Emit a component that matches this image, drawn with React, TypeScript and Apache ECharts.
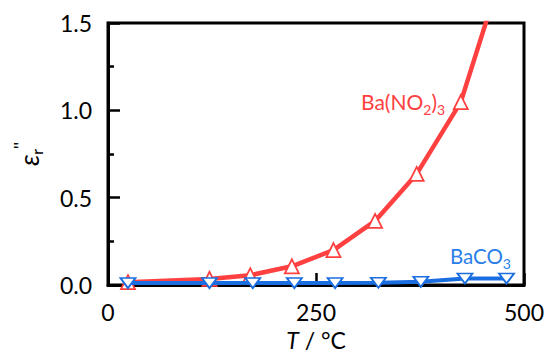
import React, { useEffect, useRef } from "react";
import * as echarts from "echarts";

const nitrateT = [24, 122, 171, 221, 271, 321, 371, 424, 470];
const nitrateEps = [0.016, 0.035, 0.056, 0.107, 0.2, 0.367, 0.636, 1.047, 1.74];
const carbonateT = [24, 122, 174, 224, 273, 325, 376, 429, 479];
const carbonateEps = [0.011, 0.011, 0.011, 0.011, 0.011, 0.013, 0.018, 0.037, 0.037];
const xTicks = [0, 250, 500];
const yTicks = [0, 0.5, 1.0, 1.5];

const RED = "#ff4040";
const BLUE = "#1a6ee0";
const BLUE_TEXT = "#2a80e8";
const FONT = "Lato";

export default function App() {
  const ref = useRef<HTMLDivElement>(null);
  useEffect(() => {
    if (!ref.current) return;
    const chart = echarts.init(ref.current, undefined, { renderer: "svg" });
    const axisCommon = {
      axisLine: { show: true, onZero: false, lineStyle: { color: "#000", width: 3 } },
      axisTick: { show: true, inside: true, length: 12, lineStyle: { color: "#000", width: 2.5 } },
      minorTick: { show: true, splitNumber: 2, length: 6, lineStyle: { color: "#000", width: 2.5 } },
      splitLine: { show: false },
    };
    chart.setOption({
      animation: false,
      backgroundColor: "#fff",
      grid: {
        left: 108,
        top: 23,
        right: 28,
        bottom: 68.5,
        show: true,
        borderColor: "#000",
        borderWidth: 3,
        backgroundColor: "transparent",
      },
      xAxis: {
        type: "value",
        min: xTicks[0],
        max: xTicks[xTicks.length - 1],
        interval: xTicks[1] - xTicks[0],
        ...axisCommon,
        axisLabel: { color: "#000", fontFamily: FONT, fontSize: 23, margin: 15 },
        name: "{i|T} / °C",
        nameLocation: "middle",
        nameGap: 43,
        nameTextStyle: {
          color: "#000",
          fontFamily: FONT,
          fontSize: 23,
          rich: {
            i: { fontStyle: "italic", fontFamily: FONT, fontSize: 23, color: "#000" },
          },
        },
      },
      yAxis: {
        type: "value",
        min: yTicks[0],
        max: yTicks[yTicks.length - 1],
        interval: yTicks[1] - yTicks[0],
        ...axisCommon,
        axisLabel: {
          color: "#000",
          fontFamily: FONT,
          fontSize: 23,
          margin: 16,
          formatter: (v: number) => v.toFixed(1),
        },
        name: "{e|ε}{s|r}{p|''}",
        nameLocation: "middle",
        nameRotate: 90,
        nameGap: 64,
        nameTextStyle: {
          color: "#000",
          fontFamily: FONT,
          rich: {
            e: { fontStyle: "italic", fontFamily: FONT, fontSize: 27, lineHeight: 32, color: "#000" },
            s: { fontFamily: FONT, fontSize: 16, lineHeight: 16, verticalAlign: "bottom", color: "#000" },
            p: { fontFamily: FONT, fontSize: 17, lineHeight: 17, verticalAlign: "top", color: "#000" },
          },
        },
      },
      series: [
        {
          name: "Ba(NO2)3",
          type: "line",
          data: nitrateT.map((t, i) => [t, nitrateEps[i]]),
          symbol: "triangle",
          symbolSize: 14,
          showAllSymbol: true,
          lineStyle: { color: RED, width: 4.5 },
          itemStyle: { color: "#fff", borderColor: RED, borderWidth: 1.8 },
          clip: true,
          z: 2,
        },
        {
          name: "BaCO3",
          type: "line",
          data: carbonateT.map((t, i) => [t, carbonateEps[i]]),
          symbol: "triangle",
          symbolRotate: 180,
          symbolSize: [15, 10],
          showAllSymbol: true,
          lineStyle: { color: BLUE, width: 4 },
          itemStyle: { color: "#fff", borderColor: BLUE, borderWidth: 1.8 },
          clip: true,
          z: 3,
        },
      ],
      graphic: [
        {
          type: "text",
          x: 361,
          y: 101,
          style: {
            text: "{m|Ba(NO}{s|2}{m|)}{s|3}",
            verticalAlign: "middle",
            align: "left",
            fill: RED,
            rich: {
              m: { fontFamily: FONT, fontSize: 21, lineHeight: 30, fill: RED, color: RED },
              s: { fontFamily: FONT, fontSize: 14, lineHeight: 14, verticalAlign: "bottom", fill: RED, color: RED },
            },
          },
          z: 10,
        },
        {
          type: "text",
          x: 450,
          y: 256,
          style: {
            text: "{m|BaCO}{s|3}",
            verticalAlign: "middle",
            align: "left",
            fill: BLUE_TEXT,
            rich: {
              m: { fontFamily: FONT, fontSize: 20.5, lineHeight: 29, fill: BLUE_TEXT, color: BLUE_TEXT },
              s: { fontFamily: FONT, fontSize: 14, lineHeight: 14, verticalAlign: "bottom", fill: BLUE_TEXT, color: BLUE_TEXT },
            },
          },
          z: 10,
        },
      ],
    });
    return () => chart.dispose();
  }, []);
  return <div ref={ref} style={{ width: 552, height: 356, position: "absolute", left: 0, top: 0 }} />;
}
